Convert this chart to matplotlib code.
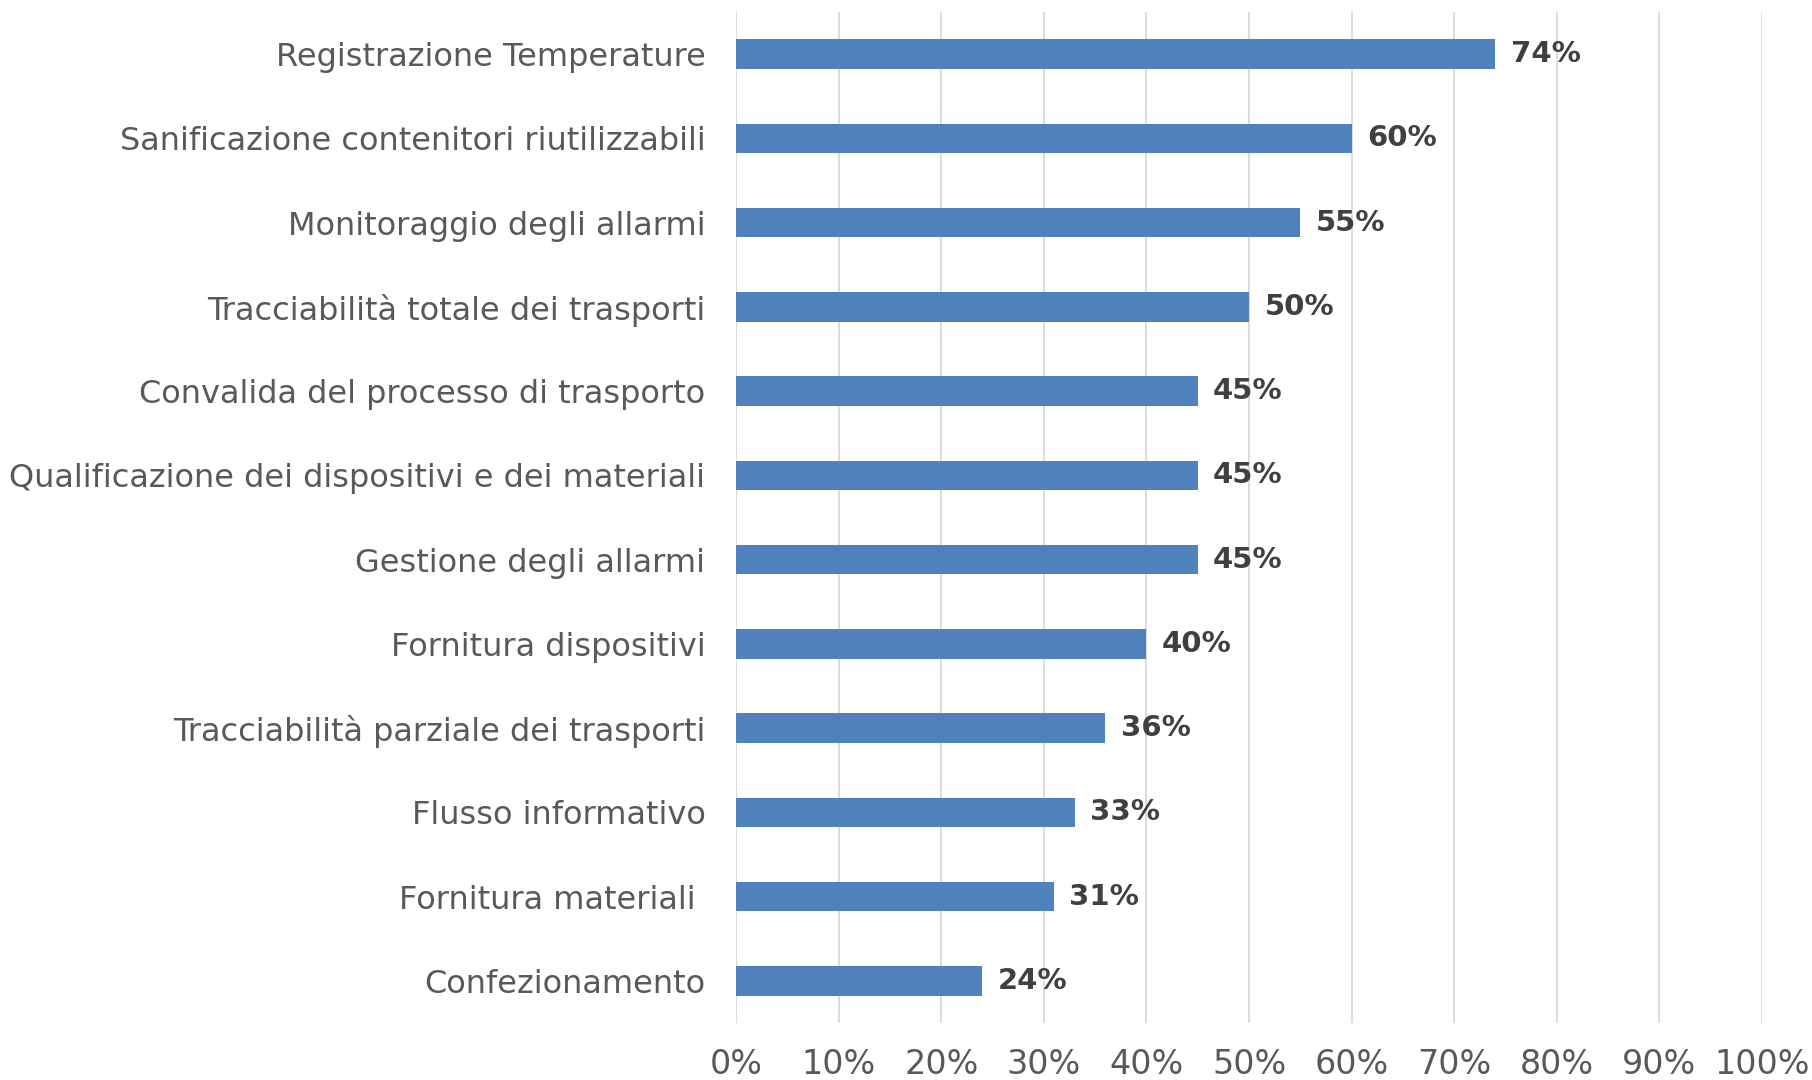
import matplotlib
matplotlib.use('Agg')
import matplotlib.pyplot as plt
from matplotlib.ticker import PercentFormatter

# Data (top to bottom as in the chart)
categories = [
    'Registrazione Temperature',
    'Sanificazione contenitori riutilizzabili',
    'Monitoraggio degli allarmi',
    'Tracciabilità totale dei trasporti',
    'Convalida del processo di trasporto',
    'Qualificazione dei dispositivi e dei materiali',
    'Gestione degli allarmi',
    'Fornitura dispositivi',
    'Tracciabilità parziale dei trasporti',
    'Flusso informativo',
    'Fornitura materiali ',
    'Confezionamento',
]
values = [74, 60, 55, 50, 45, 45, 45, 40, 36, 33, 31, 24]
xticks = [0, 10, 20, 30, 40, 50, 60, 70, 80, 90, 100]

bar_color = '#4F81BD'
text_color = '#595959'
label_color = '#404040'
grid_color = '#D9D9D9'

fig = plt.figure(figsize=(18.12, 10.8), dpi=100, facecolor='white')
ax = fig.add_axes([0.4062, 0.0528, 0.5662, 0.9361])

y = range(len(categories))
ax.barh(y, values, height=0.35, color=bar_color, zorder=3)
ax.set_ylim(len(categories) - 0.5, -0.5)
ax.set_xlim(0, 100)

for yi, v in zip(y, values):
    ax.text(v + 1.5, yi, f'{v}%', va='center', ha='left', fontsize=21,
            fontweight='bold', color=label_color)

ax.set_yticks(list(y))
ax.set_yticklabels(categories, fontsize=23, color=text_color)
ax.set_xticks(xticks)
ax.xaxis.set_major_formatter(PercentFormatter(decimals=0))
ax.tick_params(axis='x', labelsize=24, labelcolor=text_color, length=0, pad=18)
ax.tick_params(axis='y', length=0, pad=22)

ax.grid(axis='x', color=grid_color, linewidth=1.3, zorder=0)
for s in ax.spines.values():
    s.set_visible(False)

fig.savefig('out.png', dpi=100, facecolor='white')
